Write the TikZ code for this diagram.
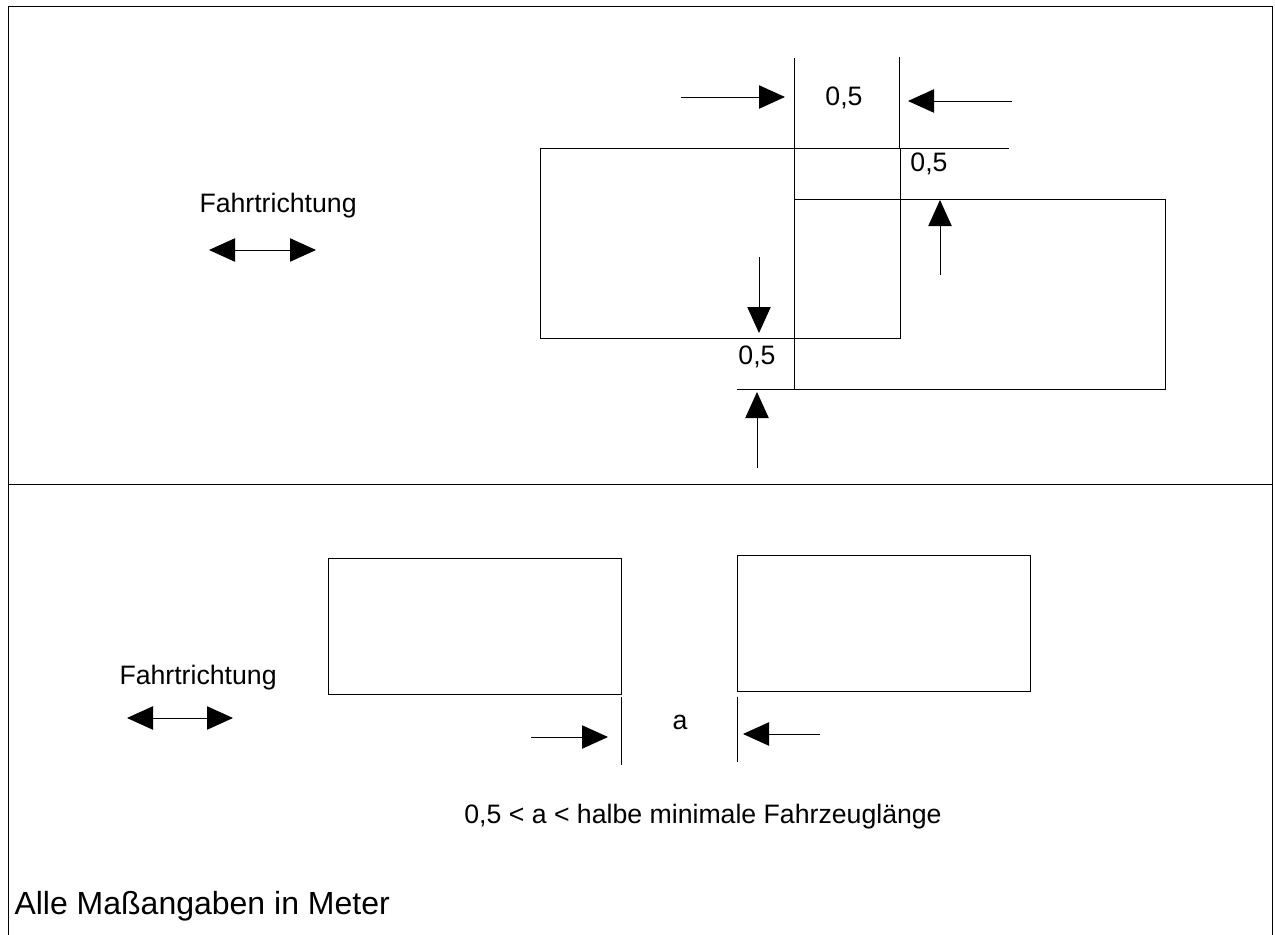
\documentclass[tikz,border=0pt]{standalone}
\usepackage{fontspec}
\setmainfont{Liberation Sans}
\usetikzlibrary{arrows.meta}

\tikzset{every picture/.style={line width=0.75pt}}
\tikzset{
  dimarrow/.style={-{Triangle[length=19.5pt,width=17.5pt]}},
  bothdir/.style={{Triangle[length=19.5pt,width=17.5pt]}-{Triangle[length=19.5pt,width=17.5pt]}},
  dimtext/.style={inner sep=0.75pt,font=\fontsize{20}{24}\selectfont},
  notetext/.style={inner sep=0.75pt,font=\fontsize{24}{28}\selectfont},
}

\begin{document}
\begin{tikzpicture}[x=0.75pt,y=0.75pt,yscale=-1,xscale=1]
\useasboundingbox (0,0) rectangle (1275,935);

%Frame
\draw (8,935) -- (8,6) -- (1272,6) -- (1272,935);
%Divider
\draw (8,484) -- (1272,484);

%Shape: Rectangles, upper part
\draw (540,148) rectangle (900,338);
\draw (794,199) rectangle (1165,389);
%Straight Lines: extension lines
\draw (794,58) -- (794,199);
\draw (899,57) -- (899,148);
\draw (900,148) -- (1009,148);
\draw (737,389) -- (794,389);
%Straight Lines: dimension arrows
\draw [dimarrow] (681,97) -- (785,97);
\draw [dimarrow] (1012,101) -- (908,101);
\draw [dimarrow] (940,275) -- (940,200);
\draw [dimarrow] (759,257) -- (759,333);
\draw [dimarrow] (757,468) -- (757,392);
%Straight Lines: direction of travel
\draw [bothdir] (209,250) -- (316,250);

% Text Node
\node (gapTop) at (844,98) [dimtext] {0,5};
% Text Node
\node (gapRight) at (929,164) [dimtext,fill=white] {0,5};
% Text Node
\node (gapBottom) at (757,357) [dimtext] {0,5};
% Text Node
\node (dirTop) at (198,206) [dimtext,anchor=west] {Fahrtrichtung};

%Shape: Rectangles, lower part
\draw (328,558) rectangle (621,694);
\draw (737,555) rectangle (1030,691);
%Straight Lines: extension lines
\draw (621,697) -- (621,765);
\draw (737,697) -- (737,762);
%Straight Lines: dimension arrows
\draw [dimarrow] (531,737) -- (608,737);
\draw [dimarrow] (820,734) -- (743,734);
%Straight Lines: direction of travel
\draw [bothdir] (127,718) -- (233,718);

% Text Node
\node (gapA) at (680,722) [dimtext] {a};
% Text Node
\node (dirBottom) at (118,678) [dimtext,anchor=west] {Fahrtrichtung};
% Text Node
\node (rule) at (703,817) [dimtext] {0,5 < a < halbe minimale Fahrzeuglänge};
% Text Node
\node (note) at (13,906) [notetext,anchor=west] {Alle Maßangaben in Meter};

\end{tikzpicture}
\end{document}
